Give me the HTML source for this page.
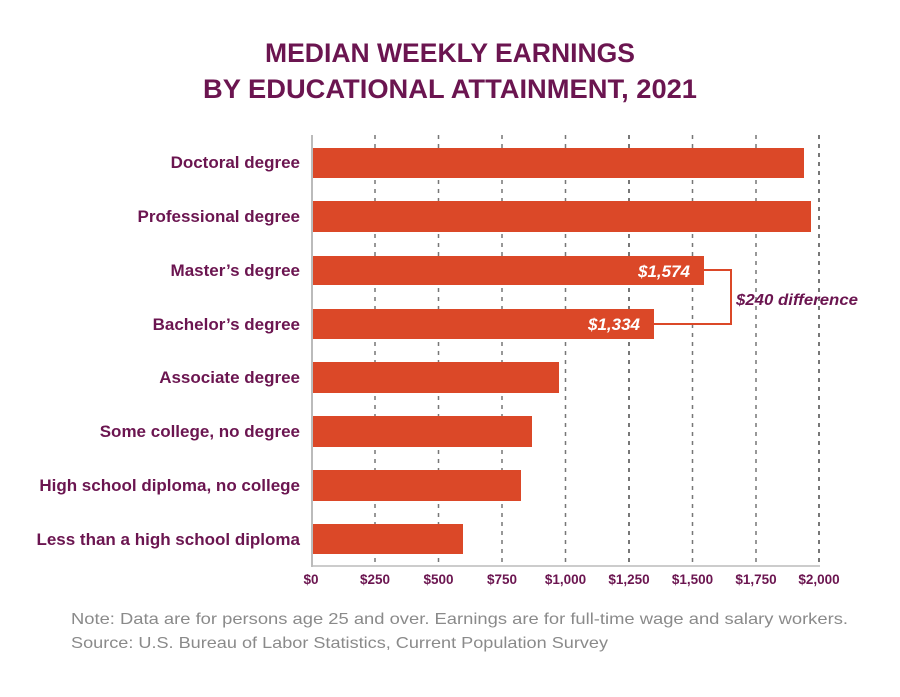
<!DOCTYPE html>
<html><head><style>
body{margin:0;background:#fff;width:900px;height:692px;overflow:hidden;font-family:"Liberation Sans",sans-serif}
</style></head><body>
<svg width="900" height="692" xmlns="http://www.w3.org/2000/svg" font-family="Liberation Sans, sans-serif">
<text x="450" y="62" text-anchor="middle" font-size="27" font-weight="bold" fill="#6b1550" textLength="370" lengthAdjust="spacingAndGlyphs">MEDIAN WEEKLY EARNINGS</text>
<text x="450" y="98" text-anchor="middle" font-size="27" font-weight="bold" fill="#6b1550" textLength="494" lengthAdjust="spacingAndGlyphs">BY EDUCATIONAL ATTAINMENT, 2021</text>
<g stroke="#777" stroke-width="1.5" stroke-dasharray="4,5">
<line x1="375" y1="135" x2="375" y2="566"/><line x1="438.5" y1="135" x2="438.5" y2="566"/>
<line x1="502" y1="135" x2="502" y2="566"/><line x1="565.5" y1="135" x2="565.5" y2="566"/>
<line x1="629" y1="135" x2="629" y2="566" stroke-width="2"/><line x1="692.5" y1="135" x2="692.5" y2="566"/>
<line x1="756" y1="135" x2="756" y2="566"/><line x1="819" y1="135" x2="819" y2="566" stroke-width="2"/>
</g>
<line x1="311" y1="566" x2="820" y2="566" stroke="#bbb" stroke-width="1.5"/>
<line x1="312" y1="135" x2="312" y2="567" stroke="#bbb" stroke-width="2"/>
<g fill="#db4828">
<rect x="313" y="148" width="491" height="30"/>
<rect x="313" y="201" width="498" height="31"/>
<rect x="313" y="256" width="391" height="29"/>
<rect x="313" y="309" width="341" height="30"/>
<rect x="313" y="362" width="246" height="31"/>
<rect x="313" y="416" width="219" height="31"/>
<rect x="313" y="470" width="208" height="31"/>
<rect x="313" y="524" width="150" height="30"/>
</g>
<polyline points="704,270 731,270 731,324 654,324" fill="none" stroke="#db4828" stroke-width="2"/>
<g font-style="italic" font-weight="bold" font-size="17" fill="#fff" text-anchor="end">
<text x="690" y="277">$1,574</text><text x="640" y="330">$1,334</text>
</g>
<text x="736" y="305" font-style="italic" font-weight="bold" font-size="16" fill="#6b1550" textLength="122" lengthAdjust="spacingAndGlyphs">$240 difference</text>
<g font-size="17" font-weight="bold" fill="#6b1550" text-anchor="end">
<text x="300" y="168">Doctoral degree</text>
<text x="300" y="222">Professional degree</text>
<text x="300" y="276">Master’s degree</text>
<text x="300" y="330">Bachelor’s degree</text>
<text x="300" y="383">Associate degree</text>
<text x="300" y="437">Some college, no degree</text>
<text x="300" y="491">High school diploma, no college</text>
<text x="300" y="545">Less than a high school diploma</text>
</g>
<g font-size="13.5" font-weight="bold" fill="#6b1550" text-anchor="middle">
<text x="311" y="584">$0</text><text x="375" y="584">$250</text><text x="438.5" y="584">$500</text>
<text x="502" y="584">$750</text><text x="565.5" y="584">$1,000</text><text x="629" y="584">$1,250</text>
<text x="692.5" y="584">$1,500</text><text x="756" y="584">$1,750</text><text x="819" y="584">$2,000</text>
</g>
<g font-size="16" fill="#8a8a8a">
<text x="71" y="624" textLength="777" lengthAdjust="spacingAndGlyphs">Note: Data are for persons age 25 and over. Earnings are for full-time wage and salary workers.</text>
<text x="71" y="648" textLength="537" lengthAdjust="spacingAndGlyphs">Source: U.S. Bureau of Labor Statistics, Current Population Survey</text>
</g>
</svg>
</body></html>
